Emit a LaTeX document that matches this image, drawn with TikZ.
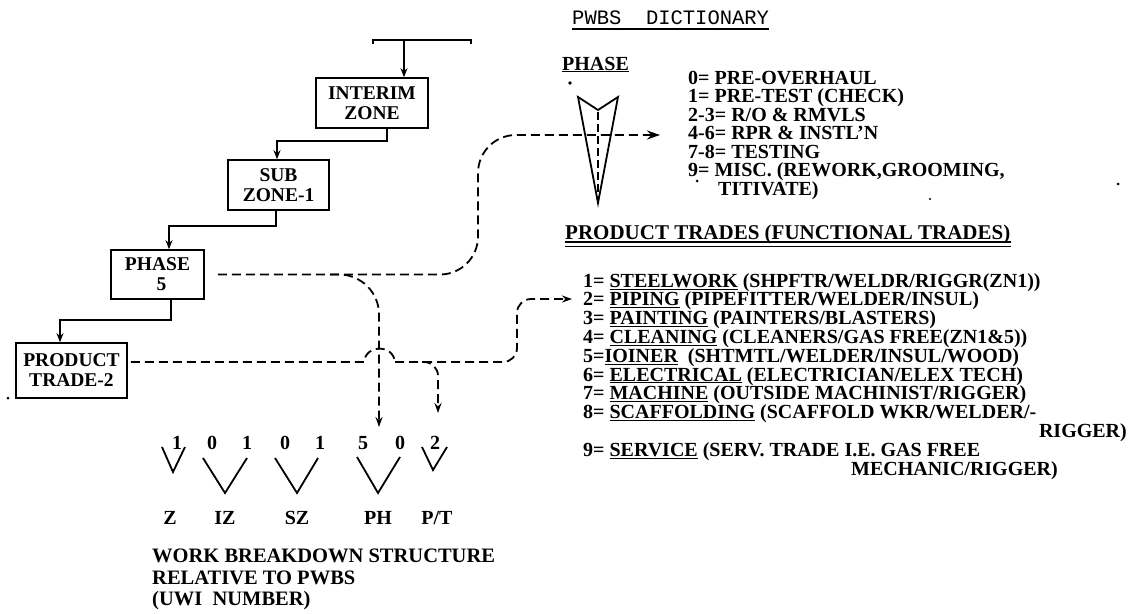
\documentclass[tikz,border=0pt]{standalone}
\usepackage{fontspec}
\setmainfont{Liberation Serif}
\newfontfamily\pwmono{Liberation Mono}
\usetikzlibrary{arrows.meta}
\tikzset{
  box/.style={draw, line width=1.6pt, align=center, inner sep=0pt,
    font=\bfseries\fontsize{19.5}{20}\selectfont},
  conn/.style={line width=1.6pt, -{Stealth[length=9pt,width=7pt]}},
  dconn/.style={line width=1.8pt, dash pattern=on 9pt off 5pt},
  dtip/.style={-{Stealth[length=10pt,width=7pt]}},
  txt/.style={anchor=base west, inner sep=0pt, font=\bfseries\fontsize{20}{20}\selectfont},
  txte/.style={anchor=base east, inner sep=0pt, font=\bfseries\fontsize{20}{20}\selectfont},
  dig/.style={inner sep=0pt, font=\bfseries\fontsize{20}{20}\selectfont},
  vee/.style={line width=1.8pt},
  speck/.style={fill=black},
}
\begin{document}
\begin{tikzpicture}[x=1pt,y=-1pt]
\fill[white] (0,0) rectangle (1134,613);
\useasboundingbox (0,0) rectangle (1134,613);

% ---- hierarchy boxes
\node[box, minimum width=112pt, minimum height=50pt] (interim) at (372,103) {INTERIM\\ZONE};
\node[box, minimum width=101pt, minimum height=50pt] (subzone) at (278.5,185) {SUB\\ZONE-1};
\node[box, minimum width=93pt, minimum height=49pt] (phase) at (157.5,274.5) {PHASE\\\hspace{8pt}5};
\node[box, minimum width=111pt, minimum height=55pt] (ptrade) at (71.5,370.5) {PRODUCT\\TRADE-2};

% top bar
\coordinate (barL) at (373,40);
\coordinate (barR) at (471,40);
\coordinate (barA) at (404,40);
\draw[line width=1.6pt] ([yshift=-4pt]barL) -- (barL) -- (barR) -- ([yshift=-4pt]barR);
\draw[conn] (barA) -- (barA |- interim.north);

% solid connectors
\coordinate (j1) at (387,141); \coordinate (j1b) at (277,141);
\draw[conn] (j1 |- interim.south) -- (j1) -- (j1b) -- (j1b |- subzone.north);
\coordinate (j2) at (276,226); \coordinate (j2b) at (169,226);
\draw[conn] (j2 |- subzone.south) -- (j2) -- (j2b) -- (j2b |- phase.north);
\coordinate (j3) at (171,320); \coordinate (j3b) at (60,320);
\draw[conn] (j3 |- phase.south) -- (j3) -- (j3b) -- (j3b |- ptrade.north);

% ---- PWBS dictionary
\node[anchor=base west, inner sep=0pt, font=\pwmono\fontsize{20.5}{20.5}\selectfont] (pwbs) at (572,24) {PWBS\ \ DICTIONARY};
\draw[line width=2.2pt] ([yshift=-5pt]pwbs.base west) -- ([yshift=-5pt]pwbs.base east);
\node[txt] (phlbl) at (562,70) {\underline{PHASE}};

% phase symbol
\draw[line width=1.8pt, line join=miter] (578,97) -- (598,203) -- (618,97) -- (598,110) -- cycle;
\draw[line width=1.4pt, dash pattern=on 8pt off 4pt] (598,112) -- (598,198);

% dictionary entries
\node[txt] (d0) at (688,84) {0= PRE-OVERHAUL};
\node[txt] (d1) at (688,102.5) {1= PRE-TEST (CHECK)};
\node[txt] (d2) at (688,121) {2-3= R/O \& RMVLS};
\node[txt] (d3) at (688,139.5) {4-6= RPR \& INSTL'N};
\node[txt] (d4) at (688,158) {7-8= TESTING};
\node[txt] (d5) at (688,176.5) {9= MISC. (REWORK,GROOMING,};
\node[txt] (d6) at (718,195) {TITIVATE)};

% product trades
\node[txt, font=\bfseries\fontsize{21}{21}\selectfont] (ptitle) at (565,239) {PRODUCT TRADES (FUNCTIONAL TRADES)};
\draw[line width=1.6pt] ([yshift=-3pt]ptitle.base west) -- ([yshift=-3pt]ptitle.base east);
\draw[line width=1pt] ([yshift=-7pt]ptitle.base west) -- ([yshift=-7pt]ptitle.base east);

\node[txt] (t1) at (583,287) {1= \underline{STEELWORK} (SHPFTR/WELDR/RIGGR(ZN1))};
\node[txt] (t2) at (583,305.8) {2= \underline{PIPING} (PIPEFITTER/WELDER/INSUL)};
\node[txt] (t3) at (583,324.6) {3= \underline{PAINTING} (PAINTERS/BLASTERS)};
\node[txt] (t4) at (583,343.4) {4= \underline{CLEANING} (CLEANERS/GAS FREE(ZN1\&5))};
\node[txt] (t5) at (583,362.2) {5=\underline{IOINER}\ \ (SHTMTL/WELDER/INSUL/WOOD)};
\node[txt] (t6) at (583,381) {6= \underline{ELECTRICAL} (ELECTRICIAN/ELEX TECH)};
\node[txt] (t7) at (583,399.8) {7= \underline{MACHINE} (OUTSIDE MACHINIST/RIGGER)};
\node[txt] (t8) at (583,418.6) {8= \underline{SCAFFOLDING} (SCAFFOLD WKR/WELDER/-};
\node[txte] (t8b) at (1127,437.4) {RIGGER)};
\node[txt] (t9) at (583,456.2) {9= \underline{SERVICE} (SERV. TRADE I.E. GAS FREE};
\node[txte] (t9b) at (1058,475) {MECHANIC/RIGGER)};

% ---- UWI number
\foreach \nm/\x/\d in {g1/177/1, g2/212/0, g3/247/1, g4/285/0, g5/320/1, g6/363/5, g7/400/0, g8/435/2}
  \node[dig] (\nm) at (\x,443) {\d};
\draw[vee] (162,447) -- (173,472) -- (185,447);
\draw[vee] (203,458) -- (225,493) -- (247,458);
\draw[vee] (275,458) -- (297,493) -- (318,458);
\draw[vee] (357,457) -- (378,493) -- (400,457);
\draw[vee] (422,447) -- (433,470) -- (447,447);
\node[dig] (lz) at (170,518) {Z};
\node[dig] (liz) at (225,518) {IZ};
\node[dig] (lsz) at (297,518) {SZ};
\node[dig] (lph) at (378,518) {PH};
\node[dig] (lpt) at (437,518) {P/T};

\node[anchor=north west, inner sep=0pt, align=left,
  font=\bfseries\fontsize{20.5}{21.5}\selectfont] (wbs) at (152,549)
  {WORK BREAKDOWN STRUCTURE\\RELATIVE TO PWBS\\(UWI\ \ NUMBER)};

% ---- dashed connectors
\coordinate (darr) at (660,135);
\draw[dconn, rounded corners=38, -{Stealth[length=13pt,width=9pt]}]
  ([xshift=13pt]phase.east) -- (478,274.5) -- (478,135) -- (darr);
\coordinate (bB) at (330,274.5);
\coordinate (pharr) at (379,427);
\draw[dconn, rounded corners=40, dtip] (bB) -- (pharr |- bB) -- (pharr);

\coordinate (hump) at (364,362);
\draw[dconn] ([shift={(3,-8.5)}]ptrade.east) -- (hump)
  .. controls (366,344) and (393,344) .. (395,362);
\coordinate (pipearr) at (572,299);
\draw[dconn, rounded corners=14, dtip] (395,362) -- (517,362) -- (517,299) -- (pipearr);
\coordinate (ptbr) at (422,362);
\coordinate (ptarr) at (438,413);
\draw[dconn, rounded corners=14, dtip] (ptbr) -- (ptarr |- ptbr) -- (ptarr);

% ---- scan specks
\fill[speck] (8,398) circle (1.5);
\fill[speck] (159,282) circle (1.3);
\fill[speck] (570,83) circle (1.8);
\fill[speck] (697,181) circle (1.5);
\fill[speck] (1118,184) circle (1.5);
\fill[speck] (930,199) circle (1.2);
\end{tikzpicture}
\end{document}
